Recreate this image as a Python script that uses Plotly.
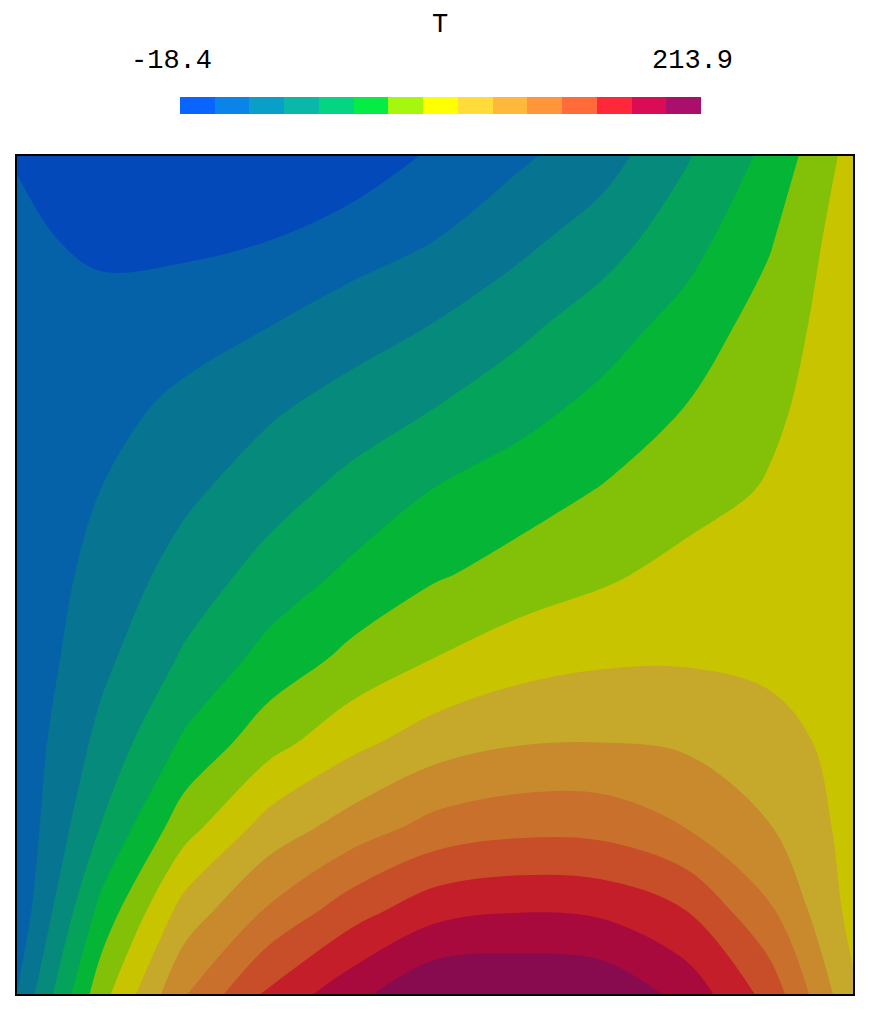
import plotly.graph_objects as go

# ---- data -----------------------------------------------------------
T_MIN = -18.4
T_MAX = 213.9
N_BINS = 15
title_text = "T"

x_coords = [0.0, 0.1, 0.2, 0.3, 0.4, 0.5, 0.6, 0.7, 0.8, 0.9, 1.0]
y_coords = [0.0, 0.1, 0.2, 0.3, 0.4, 0.5, 0.6, 0.7, 0.8, 0.9, 1.0]

# temperature field, rows from bottom (y=0) to top (y=1)
T_row0 = [13.0, 83.8, 135.0, 170.5, 193.1, 213.0, 213.9, 211.0, 193.2, 161.9, 108.0]
T_row1 = [2.0, 63.4, 111.6, 138.0, 160.5, 177.3, 182.0, 179.7, 167.4, 138.5, 100.5]
T_row2 = [1.0, 43.8, 83.4, 111.4, 127.5, 141.6, 147.0, 146.2, 136.0, 121.5, 100.0]
T_row3 = [1.5, 32.3, 61.5, 83.9, 101.2, 113.7, 120.0, 121.0, 118.6, 111.4, 100.0]
T_row4 = [0.5, 23.9, 45.7, 64.2, 78.6, 90.3, 99.1, 103.3, 104.0, 102.0, 100.0]
T_row5 = [1.0, 17.8, 34.5, 49.5, 62.2, 72.9, 80.4, 87.5, 95.0, 98.0, 100.0]
T_row6 = [1.0, 12.7, 24.8, 36.8, 48.6, 59.8, 67.6, 75.5, 83.5, 91.5, 100.0]
T_row7 = [1.0, 6.7, 16.6, 25.5, 34.5, 43.5, 53.2, 63.6, 74.8, 86.7, 100.0]
T_row8 = [1.0, 4.0, 5.3, 11.9, 20.2, 28.4, 39.5, 51.2, 64.7, 81.3, 100.0]
T_row9 = [1.0, -7.0, -6.0, -3.2, 5.0, 12.5, 23.6, 36.6, 52.5, 72.9, 100.0]
T_row10 = [-4.0, -14.0, -17.0, -17.0, -13.0, -0.5, 10.0, 21.0, 42.0, 63.0, 96.0]

bar_colors = ["#0A64FF", "#0A84E8", "#0A9FC8", "#0AB8AA", "#05D583",
              "#05ED45", "#A6F70E", "#FFFF00", "#FFDC37", "#FFB83C",
              "#FF963A", "#FF6C3A", "#FF283A", "#D90C55", "#A90F6B"]
field_colors = ["#0449BA", "#0562A8", "#077492", "#068A7C", "#05A25B",
                "#05B536", "#82C107", "#C8C500", "#C6A92B", "#C88A2D",
                "#C8702C", "#C84E2A", "#C41E2B", "#A80A3D", "#880B50"]

# ---- figure -----------------------------------------------------------
T_grid = [T_row0, T_row1, T_row2, T_row3, T_row4, T_row5,
          T_row6, T_row7, T_row8, T_row9, T_row10]
bin_w = (T_MAX - T_MIN) / N_BINS
bin_centers = [T_MIN + (k + 0.5) * bin_w for k in range(N_BINS)]

field_scale = [[k / (N_BINS - 1), c] for k, c in enumerate(field_colors)]
bar_scale = []
for k, c in enumerate(bar_colors):
    bar_scale.append([k / N_BINS, c])
    bar_scale.append([(k + 1) / N_BINS, c])

W, H = 872, 1010
fig = go.Figure()
fig.add_trace(go.Contour(
    x=x_coords, y=y_coords, z=T_grid,
    contours=dict(start=T_MIN + bin_w, end=T_MAX - bin_w, size=bin_w,
                  coloring="fill", showlines=False),
    colorscale=field_scale, line=dict(width=0),
    showscale=False, hoverinfo="skip"))
fig.add_trace(go.Heatmap(
    z=[bin_centers], zmin=T_MIN, zmax=T_MAX, colorscale=bar_scale,
    showscale=False, xaxis="x2", yaxis="y2", hoverinfo="skip"))

ax_common = dict(showgrid=False, zeroline=False, showticklabels=False,
                 ticks="", showline=True, mirror=True, linewidth=2,
                 linecolor="black")
fig.update_layout(
    width=W, height=H, margin=dict(l=0, r=0, t=0, b=0),
    paper_bgcolor="white", plot_bgcolor="white", showlegend=False,
    xaxis=dict(domain=[17 / W, 853 / W], range=[0, 1], **ax_common),
    yaxis=dict(domain=[1 - 994 / H, 1 - 156 / H], range=[0, 1], **ax_common),
    xaxis2=dict(domain=[180 / W, 701 / W], anchor="y2", visible=False),
    yaxis2=dict(domain=[1 - 114 / H, 1 - 97 / H], anchor="x2", visible=False),
)
font = dict(family="Liberation Mono, Courier New, monospace", size=27, color="black")
fig.add_annotation(text=title_text, x=440.5 / W, y=1 - 25 / H, xref="paper", yref="paper",
                   xanchor="center", yanchor="middle", showarrow=False, font=font)
fig.add_annotation(text=f"{T_MIN:.1f}", x=171 / W, y=1 - 61 / H, xref="paper", yref="paper",
                   xanchor="center", yanchor="middle", showarrow=False, font=font)
fig.add_annotation(text=f"{T_MAX:.1f}", x=692 / W, y=1 - 61 / H, xref="paper", yref="paper",
                   xanchor="center", yanchor="middle", showarrow=False, font=font)

fig.write_html("out.html")
